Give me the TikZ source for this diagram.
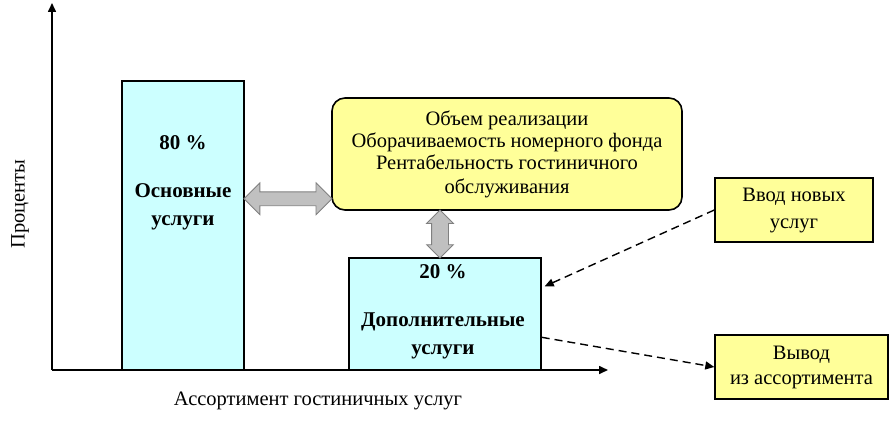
\documentclass[tikz,border=0pt]{standalone}
\usepackage{fontspec}
\setmainfont{Liberation Serif}
\usetikzlibrary{positioning,shapes.arrows,arrows.meta,calc}
\definecolor{barcyan}{RGB}{204,255,255}
\definecolor{noteyellow}{RGB}{255,255,153}
\definecolor{fatgray}{RGB}{192,192,192}
\definecolor{fatedge}{RGB}{128,128,128}

\begin{document}
\begin{tikzpicture}[x=1pt,y=-1pt,
  every node/.style={font=\fontsize{20.5}{22}\selectfont},
  axis/.style={-{Triangle[length=9pt,width=8pt]}, line width=1.6pt},
  bar/.style={rectangle, draw, line width=1.4pt, fill=barcyan, inner sep=0pt},
  bartext/.style={align=center, font=\fontsize{21}{28}\selectfont\bfseries},
  note/.style={rectangle, draw, line width=1.4pt, fill=noteyellow, align=center, inner sep=0pt},
  fat/.style={double arrow, draw=fatedge, fill=fatgray, line width=0.8pt, inner xsep=0pt},
  hint/.style={dashed, dash pattern=on 8pt off 5pt, line width=1.4pt, -{Triangle[length=9pt,width=8pt]}}
]
  \useasboundingbox (0,0) rectangle (893,420);

  % axes
  \coordinate (o) at (52,370);
  \coordinate (ytop) at (52,3);
  \coordinate (xend) at (608,370);
  \draw[axis] (o) -- (ytop);
  \node[rotate=90] (ylab) at (20,204) {Проценты};
  \node (xlab) at (318,401) {Ассортимент гостиничных услуг};

  % bars
  \node[bar, minimum width=122pt, minimum height=289pt] (main) at (183,225.5) {};
  \node[bar, minimum width=192pt, minimum height=112pt] (extra) at (445,314) {};
  \draw[axis] (o) -- (xend);

  \node[bartext] (mainpct) at (183,143) {80 \%};
  \node[bartext] (maintxt) at (183,207) {Основные\\услуги};
  \node[bartext] (extrapct) at (443,272) {20 \%};
  \node[bartext] (extratxt) at (443,336) {Дополнительные\\услуги};

  % indicators
  \node[note, rounded corners=13pt, line width=1.6pt, minimum width=350pt, minimum height=112pt] (ind) at (507,154)
    {Объем реализации\\Оборачиваемость номерного фонда\\Рентабельность гостиничного\\[2pt]обслуживания};

  % fat arrows
  \node[fat, minimum height=88pt, inner ysep=6.5pt, double arrow head extend=9pt]
    (hlink) at ($(main.east)!0.5!(ind.west)+(0,9)$) {};
  \node[fat, rotate=90, minimum height=48pt, inner ysep=8pt, double arrow head extend=5pt]
    (vlink) at ($(ind.south)!0.5!(ind.south|-extra.north)+(-67,0)$) {};

  % new / removed services
  \node[note, minimum width=158pt, minimum height=64pt, font=\fontsize{20.5}{27}\selectfont] (newsrv) at (794,210) {Ввод новых\\услуг};
  \node[note, minimum width=173pt, minimum height=64pt, font=\fontsize{20.5}{25}\selectfont] (oldsrv) at (801.5,367) {Вывод\\из ассортимента};

  \draw[hint] (newsrv.west) -- ($(extra.north east)+(3,29)$);
  \coordinate (outstart) at ($(extra.north east)+(0,80)$);
  \draw[hint] (outstart) -- (oldsrv.west);
\end{tikzpicture}
\end{document}
